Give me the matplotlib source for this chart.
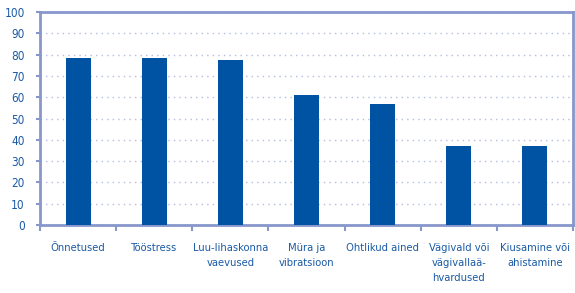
import matplotlib
matplotlib.use("Agg")
import matplotlib.pyplot as plt
import numpy as np

categories = ["Õnnetused", "Tööstress", "Luu-lihaskonna\nvaevused", "Müra ja\nvibratsioon",
              "Ohtlikud ained", "Vägivald või\nvägivallaä-\nhvardused", "Kiusamine või\nahistamine"]
values = [78.5, 78.5, 77.5, 61, 57, 37, 37]
yticks = list(range(0, 101, 10))

bar_color = "#0052a3"
axis_color = "#8797cc"
text_color = "#1a5aa5"

plt.rcParams['font.family'] = ['DejaVu Sans']
plt.rcParams['font.stretch'] = 'condensed'

fig = plt.figure(figsize=(5.75, 2.93), dpi=100)
ax = fig.add_axes([40 / 575, 1 - 225 / 293, 533 / 575, 213 / 293])

x = np.arange(len(categories))
ax.bar(x, values, width=0.33, color=bar_color, zorder=3)

ax.set_xlim(-0.5, len(categories) - 0.5)
ax.set_ylim(0, 100)
ax.set_yticks(yticks)
ax.set_yticklabels([str(v) for v in yticks], color=text_color, fontsize=8.5,
                   fontstretch='condensed')
ax.yaxis.grid(True, linestyle=(0, (1, 3)), color="#b3bce4", linewidth=1)
ax.set_axisbelow(True)

ax.set_xticks(np.arange(len(categories) + 1) - 0.5)
ax.set_xticklabels([])
ax.set_xticks(x, minor=True)
ax.set_xticklabels(categories, minor=True, color=text_color, fontsize=8,
                   fontstretch='condensed', linespacing=1.65)
ax.tick_params(axis="x", which="minor", length=0, pad=13)
ax.tick_params(axis="x", which="major", length=4, width=1.5, color=axis_color)
ax.tick_params(axis="y", length=3, width=1.5, color=axis_color, pad=8)

for s in ax.spines.values():
    s.set_color(axis_color)
    s.set_linewidth(2)

fig.savefig("out.png", dpi=100)
